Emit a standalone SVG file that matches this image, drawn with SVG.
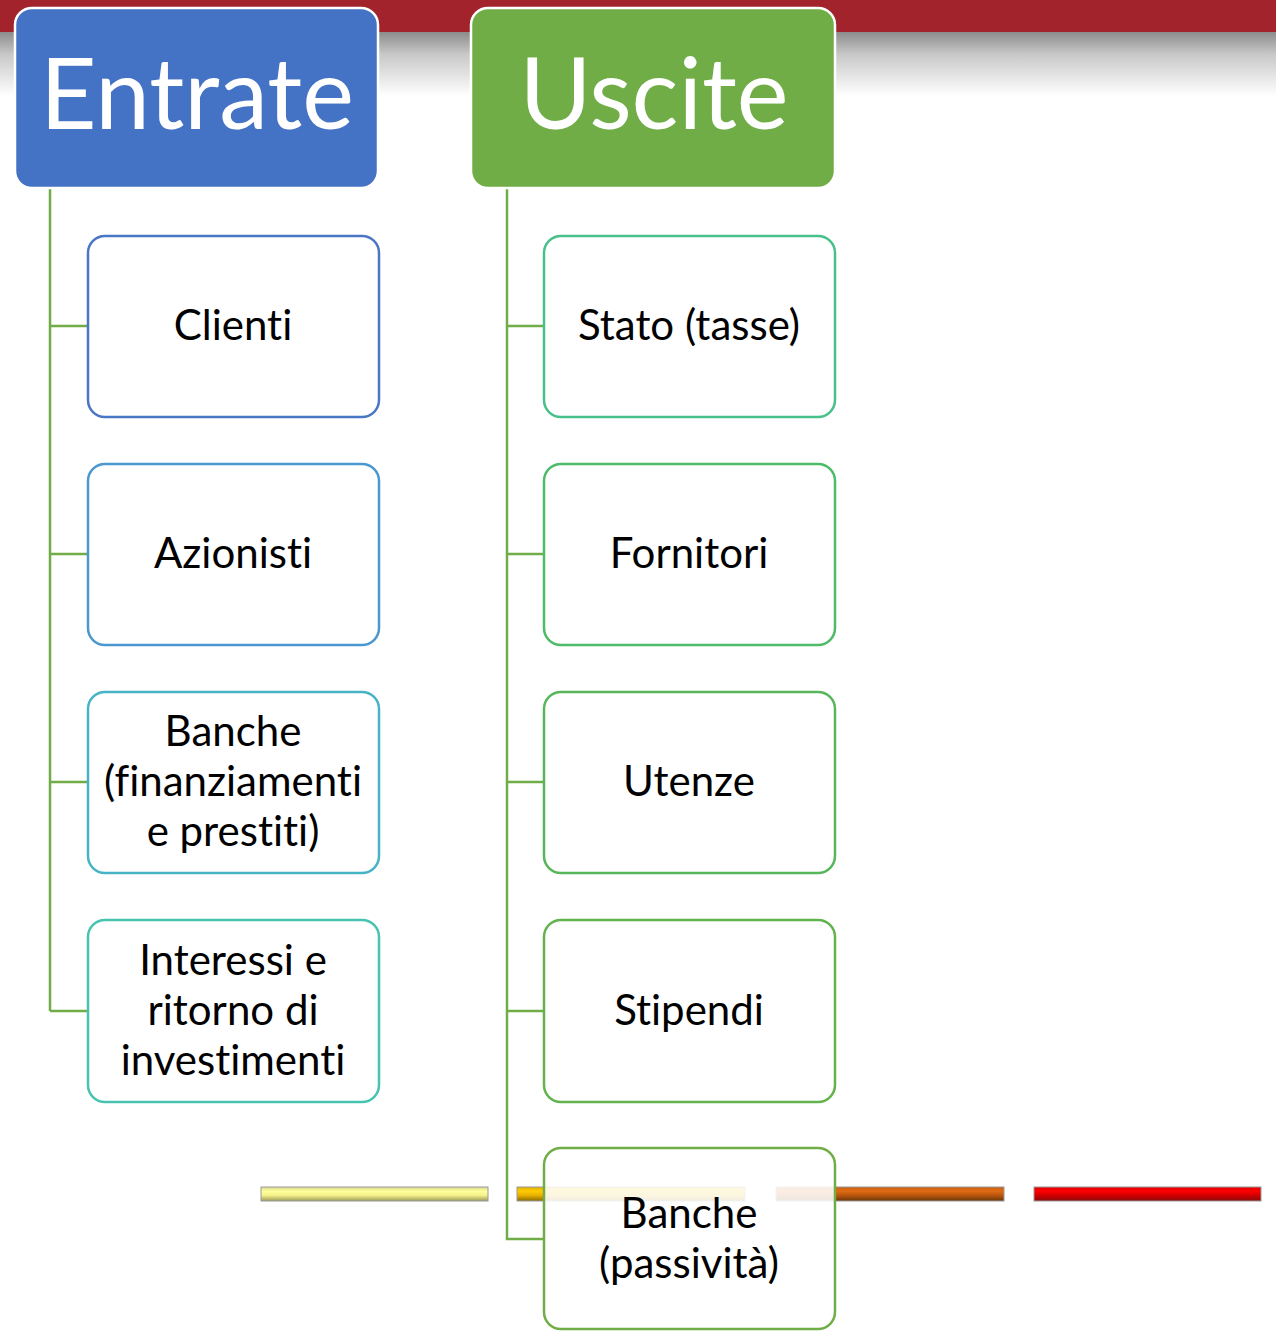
<svg xmlns="http://www.w3.org/2000/svg" width="1276" height="1331" viewBox="0 0 1276 1331">
<defs>
<linearGradient id="shade" x1="0" y1="0" x2="0" y2="1">
<stop offset="0" stop-color="#8c8c8c"/>
<stop offset="0.35" stop-color="#c8c8c8"/>
<stop offset="1" stop-color="#ffffff"/>
</linearGradient>
<linearGradient id="gYel" x1="0" y1="0" x2="0" y2="1">
<stop offset="0" stop-color="#d8d890"/><stop offset="0.3" stop-color="#ffff99"/><stop offset="0.6" stop-color="#f5f08a"/><stop offset="1" stop-color="#9a9a58"/>
</linearGradient>
<linearGradient id="gGold" x1="0" y1="0" x2="0" y2="1">
<stop offset="0" stop-color="#e0b000"/><stop offset="0.3" stop-color="#ffcc00"/><stop offset="0.6" stop-color="#e8b000"/><stop offset="1" stop-color="#8a6a00"/>
</linearGradient>
<linearGradient id="gBrown" x1="0" y1="0" x2="0" y2="1">
<stop offset="0" stop-color="#c86010"/><stop offset="0.3" stop-color="#e06a12"/><stop offset="0.6" stop-color="#b8560f"/><stop offset="1" stop-color="#6a3608"/>
</linearGradient>
<linearGradient id="gRed" x1="0" y1="0" x2="0" y2="1">
<stop offset="0" stop-color="#e00000"/><stop offset="0.3" stop-color="#ff0000"/><stop offset="0.6" stop-color="#d00000"/><stop offset="1" stop-color="#8a0a0a"/>
</linearGradient>
<style>
.hdr{stroke:#ffffff;stroke-width:2.5}
.hdrt{font-family:Lato,"Open Sans",sans-serif;font-size:98px;fill:#ffffff;text-anchor:middle;font-variant-ligatures:none}
.box{fill:#ffffff;stroke-width:2.5}
.t{font-family:Lato,"Open Sans",sans-serif;font-size:42px;fill:#000000;text-anchor:middle;font-variant-ligatures:none}
.conn{fill:none;stroke:#70ad47;stroke-width:2.5}
.bar{stroke:#9a9a9a;stroke-width:1}
</style>
</defs>
<rect x="0" y="0" width="1276" height="1331" fill="#ffffff"/>
<g id="background">
<rect x="0" y="0" width="1276" height="32" fill="#a2232c"/>
<rect x="0" y="32" width="1276" height="64" fill="url(#shade)"/>
<rect x="261" y="1187" width="227" height="14" fill="url(#gYel)" class="bar"/>
<rect x="517" y="1187" width="228" height="14" fill="url(#gGold)" class="bar"/>
<rect x="776" y="1187" width="228" height="14" fill="url(#gBrown)" class="bar"/>
<rect x="1034" y="1187" width="227" height="14" fill="url(#gRed)" class="bar"/>
</g>
<g id="connectors">
<path class="conn" d="M50 188 V1011 M50 326 H88 M50 554 H88 M50 782 H88 M50 1011 H88"/>
<path class="conn" d="M507 188 V1239 H544 M507 326 H544 M507 554 H544 M507 782 H544 M507 1011 H544"/>
</g>
<g id="entrate">
<rect class="hdr" x="15" y="8" width="363" height="180" rx="17" fill="#4472c4"/>
<text class="hdrt" x="197" y="129">Entrate</text>
</g>
<g id="uscite">
<rect class="hdr" x="471" y="8" width="364" height="180" rx="17" fill="#70ad47"/>
<text class="hdrt" x="654" y="129">Uscite</text>
</g>
<g id="clienti">
<rect class="box" x="88" y="236" width="291" height="181" rx="17" stroke="#4a76c6"/>
<text class="t" x="233" y="340">Clienti</text>
</g>
<g id="azionisti">
<rect class="box" x="88" y="464" width="291" height="181" rx="17" stroke="#4a98cf"/>
<text class="t" x="233" y="568">Azionisti</text>
</g>
<g id="banche-fin">
<rect class="box" x="88" y="692" width="291" height="181" rx="17" stroke="#46b4c4"/>
<text class="t" x="233" y="746">Banche</text>
<text class="t" x="233" y="796">(finanziamenti</text>
<text class="t" x="233" y="846">e prestiti)</text>
</g>
<g id="interessi">
<rect class="box" x="88" y="920" width="291" height="182" rx="17" stroke="#47c3b0"/>
<text class="t" x="233" y="975">Interessi e</text>
<text class="t" x="233" y="1025">ritorno di</text>
<text class="t" x="233" y="1075">investimenti</text>
</g>
<g id="stato">
<rect class="box" x="544" y="236" width="291" height="181" rx="17" stroke="#47c08a"/>
<text class="t" x="689" y="340">Stato (tasse)</text>
</g>
<g id="fornitori">
<rect class="box" x="544" y="464" width="291" height="181" rx="17" stroke="#4dbb68"/>
<text class="t" x="689" y="568">Fornitori</text>
</g>
<g id="utenze">
<rect class="box" x="544" y="692" width="291" height="181" rx="17" stroke="#58b65a"/>
<text class="t" x="689" y="796">Utenze</text>
</g>
<g id="stipendi">
<rect class="box" x="544" y="920" width="291" height="182" rx="17" stroke="#62b24e"/>
<text class="t" x="689" y="1025">Stipendi</text>
</g>
<g id="banche-pass">
<rect class="box" x="544" y="1148" width="291" height="181" rx="17" stroke="#70ad47" fill-opacity="0.88"/>
<text class="t" x="689" y="1228">Banche</text>
<text class="t" x="689" y="1278">(passività)</text>
</g>
</svg>
